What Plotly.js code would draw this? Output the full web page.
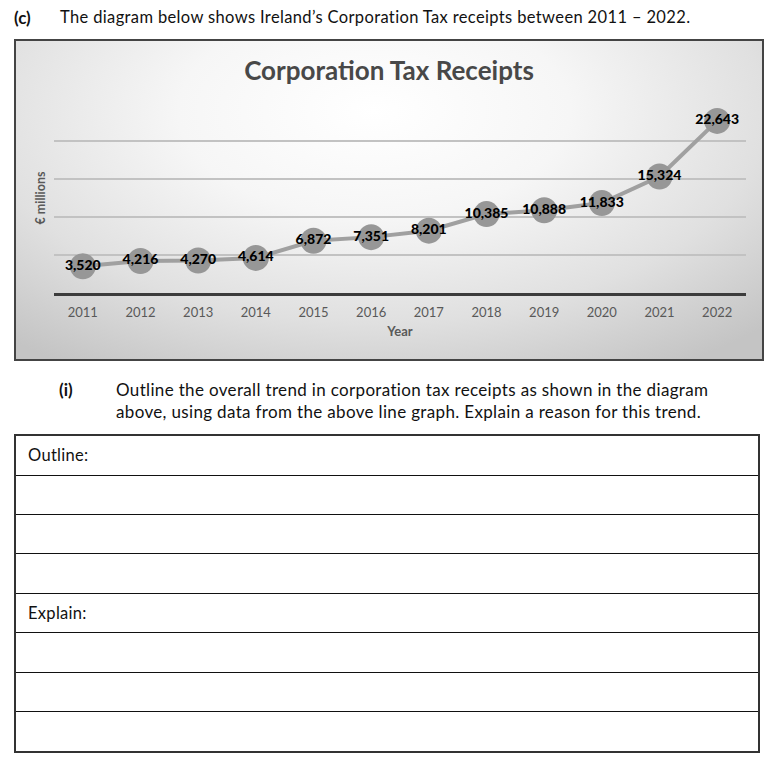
<!DOCTYPE html>
<html>
<head>
<meta charset="utf-8">
<script src="https://cdn.plot.ly/plotly-3.0.1.min.js"></script>
<style>
  html, body { margin:0; padding:0; background:#fff; width:781px; height:768px; overflow:hidden; font-family: Lato, "Open Sans", sans-serif; color:#111; }
  .abs { position:absolute; white-space:nowrap; }
  #box { position:absolute; left:14px; top:39px; width:750px; height:322px; box-sizing:border-box;
         border:2px solid #444;
         background: radial-gradient(ellipse 75% 95% at 48% 22%, #ffffff 0%, #f6f6f6 35%, #e0e0e0 70%, #c4c4c4 100%); }
  #chart { position:absolute; left:0; top:0; width:746px; height:318px; }
  #tbl { position:absolute; left:14px; top:434px; width:746px; height:319px; box-sizing:border-box; border:2px solid #333; }
  .row { position:absolute; left:0; right:0; border-top:1.5px solid #111; }
  .lbl { position:absolute; left:12px; font-size:16.5px; letter-spacing:0.3px; }
</style>
</head>
<body>
<div class="abs" style="left:14px; top:7px; font-size:17px; font-weight:bold;">(c)</div>
<div class="abs" style="left:60px; top:7px; font-size:16.5px; letter-spacing:0.36px;">The diagram below shows Ireland’s Corporation Tax receipts between 2011 – 2022.</div>

<div id="box"><div id="chart"></div></div>

<div class="abs" style="left:59px; top:379px; font-size:17px; font-weight:bold;">(i)</div>
<div class="abs" style="left:116px; top:379px; font-size:17px; line-height:22px; letter-spacing:0.34px;">Outline the overall trend in corporation tax receipts as shown in the diagram<br>above, using data from the above line graph. Explain a reason for this trend.</div>

<div id="tbl"></div>

<script>
const years = ['2011','2012','2013','2014','2015','2016','2017','2018','2019','2020','2021','2022'];
const receipts = [3520, 4216, 4270, 4614, 6872, 7351, 8201, 10385, 10888, 11833, 15324, 22643];
const chartTitle = 'Corporation Tax Receipts';
const xTitle = 'Year';
const yTitle = '€ millions';
const rowLabels = ['Outline:', '', '', '', 'Explain:', '', '', ''];

// answer table
const tbl = document.getElementById('tbl');
const rowH = 315 / rowLabels.length;
rowLabels.forEach((t, i) => {
  if (i > 0) {
    const r = document.createElement('div');
    r.className = 'row';
    r.style.top = (i * rowH - 0.75) + 'px';
    tbl.appendChild(r);
  }
  if (t) {
    const l = document.createElement('div');
    l.className = 'lbl';
    l.textContent = t;
    l.style.top = (i * rowH + 9) + 'px';
    tbl.appendChild(l);
  }
});

const trace = {
  type: 'scatter',
  mode: 'lines+markers+text',
  x: years,
  y: receipts,
  line: { color: '#a0a0a0', width: 4 },
  marker: { color: '#979797', size: 26, line: { width: 0 } },
  texttemplate: '%{y:,}',
  textposition: 'middle center',
  textfont: { family: 'Lato', size: 14, color: '#000', weight: 900 },
  hoverinfo: 'skip',
  cliponaxis: false
};

const layout = {
  width: 746, height: 318,
  margin: { l: 38, r: 16, t: 62, b: 66 },
  paper_bgcolor: 'rgba(0,0,0,0)',
  plot_bgcolor: 'rgba(0,0,0,0)',
  showlegend: false,
  font: { family: 'Lato', color: '#595959' },
  title: {
    text: chartTitle,
    x: 0.5, xanchor: 'center',
    y: 1 - 30 / 318, yanchor: 'middle', yref: 'container',
    font: { family: 'Lato', size: 26, color: '#484848', weight: 'bold' }
  },
  xaxis: {
    type: 'category',
    range: [-0.5, 11.5],
    showline: true, linecolor: '#3c3c3c', linewidth: 3,
    showgrid: false, zeroline: false,
    ticks: '',
    tickfont: { family: 'Lato', size: 13, color: '#595959' },
    ticklabelstandoff: 5,
    title: { text: xTitle, standoff: 9, font: { family: 'Lato', size: 13, color: '#595959', weight: 'bold' } }
  },
  yaxis: {
    range: [0, 25000],
    dtick: 5000,
    showgrid: true, gridcolor: '#c2c2c2', gridwidth: 1.5,
    zeroline: false, showline: false,
    showticklabels: false, ticks: '',
    title: { text: yTitle, standoff: 4, font: { family: 'Lato', size: 12.5, color: '#595959', weight: 'bold' } }
  }
};

Plotly.newPlot('chart', [trace], layout, { displayModeBar: false, staticPlot: true });
</script>
</body>
</html>
